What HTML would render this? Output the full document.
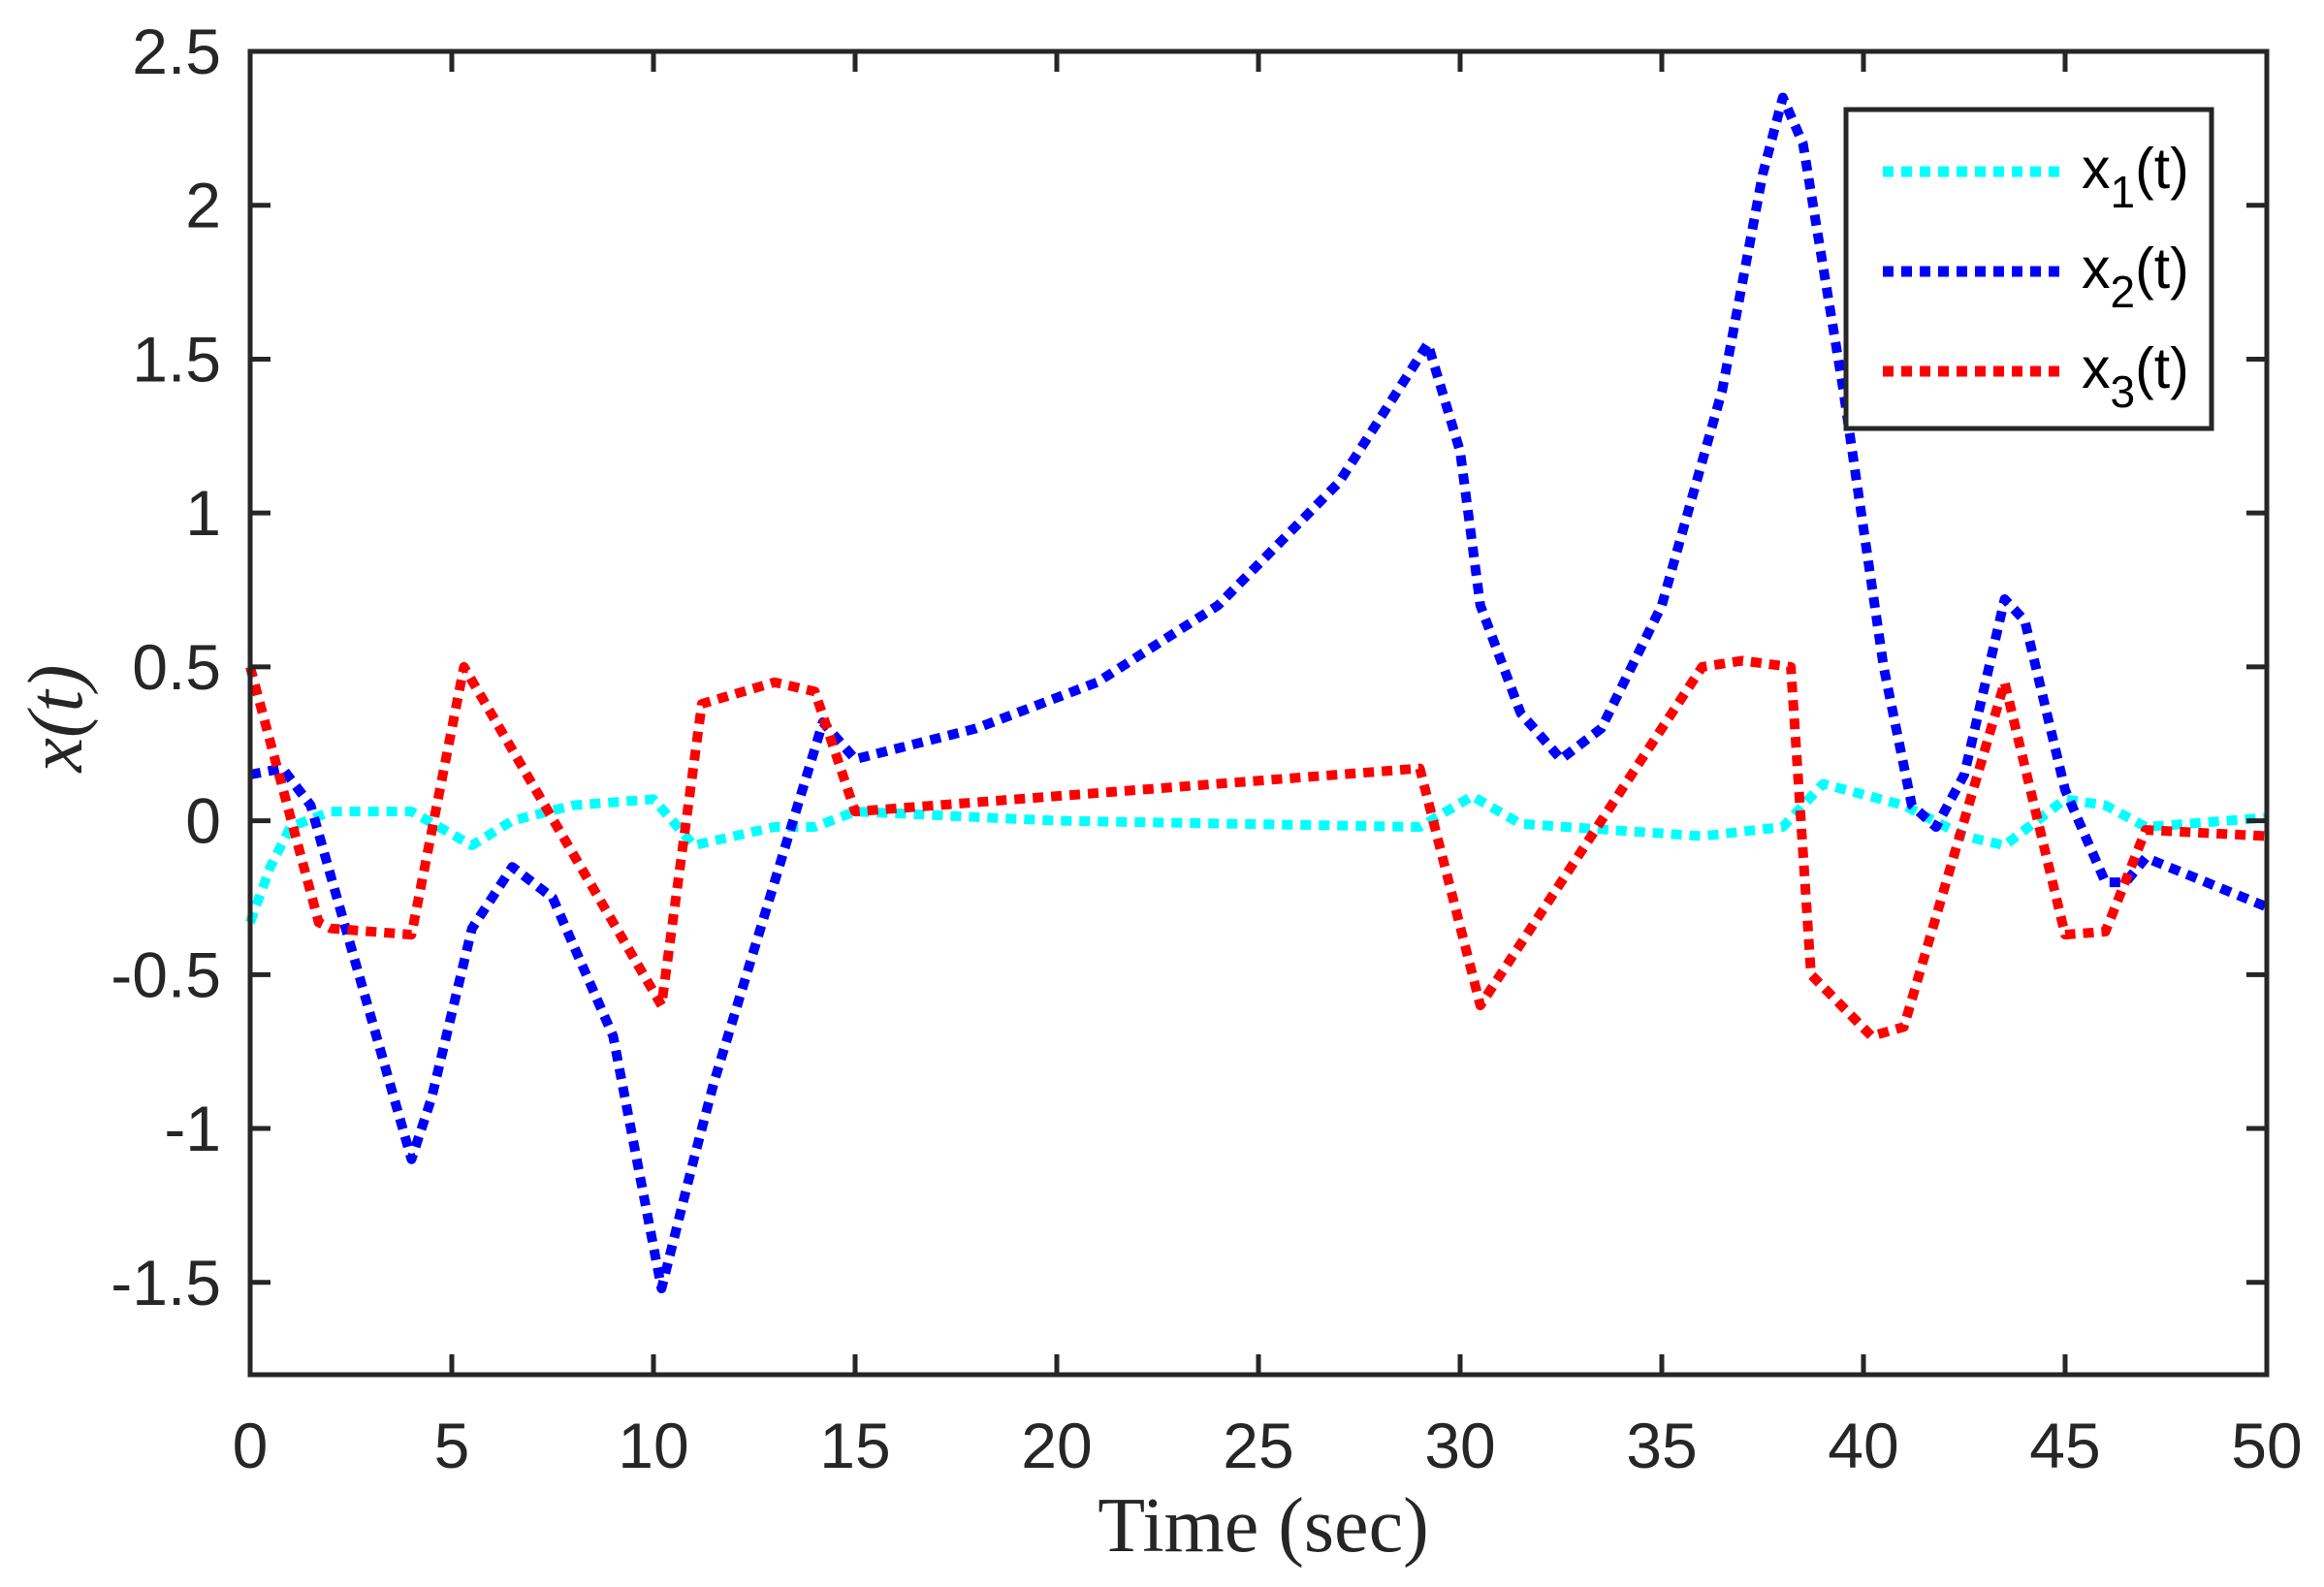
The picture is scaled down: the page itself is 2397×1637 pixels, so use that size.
<!DOCTYPE html>
<html><head><meta charset="utf-8"><style>
html,body{margin:0;padding:0;background:#fff}
svg{display:block}
</style></head><body>
<svg id="s" width="2397" height="1637" xmlns="http://www.w3.org/2000/svg">
<rect width="2397" height="1637" fill="#fff"/>
<g id="lines"></g>
<g id="axes" stroke="#262626" stroke-width="5" fill="none"></g>
<g id="labels" font-family="Liberation Sans, sans-serif" font-size="66" fill="#262626"></g>
<text x="1303" y="1600" font-family="Liberation Serif, serif" font-size="80" text-anchor="middle" fill="#262626">Time (sec)</text>
<text transform="translate(84,741) rotate(-90)" font-family="Liberation Serif, serif" font-size="80" font-style="italic" text-anchor="middle" fill="#262626">x(t)</text>
<rect x="1904" y="113" width="377" height="329" fill="#fff" stroke="#262626" stroke-width="5"/>
<g stroke-width="11" stroke-dasharray="11 8">
<line x1="1942" y1="177" x2="2127" y2="177" stroke="#00ffff"/>
<line x1="1942" y1="280" x2="2127" y2="280" stroke="#0000ff"/>
<line x1="1942" y1="383" x2="2127" y2="383" stroke="#ff0000"/>
</g>
<g font-family="Liberation Sans, sans-serif" font-size="59" fill="#000">
<text x="2147" y="194">x<tspan dy="20" font-size="46">1</tspan><tspan dy="-20">(t)</tspan></text>
<text x="2147" y="297">x<tspan dy="20" font-size="46">2</tspan><tspan dy="-20">(t)</tspan></text>
<text x="2147" y="400">x<tspan dy="20" font-size="46">3</tspan><tspan dy="-20">(t)</tspan></text>
</g>
</svg>
<script>
var L=258,R=2338,T=53,B=1418,ymin=-1.8,ymax=2.5;
function X(x){return L+(x/50)*(R-L);}
function Y(y){return T+(ymax-y)/(ymax-ymin)*(B-T);}
var ns="http://www.w3.org/2000/svg";
var c=[[0,-0.33],[0.5,-0.15],[1,-0.02],[2,0.03],[4,0.03],[5.5,-0.08],[6.5,0],[8,0.05],[10,0.07],[11,-0.08],[13,-0.02],[14,-0.02],[15,0.03],[20,0],[29,-0.02],[30.3,0.08],[31.5,-0.01],[36,-0.05],[38,-0.02],[39,0.12],[41,0.05],[42.5,-0.05],[43.5,-0.08],[45,0.07],[46,0.05],[47,-0.02],[50,0.01]];
var b=[[0,0.15],[0.8,0.17],[1.5,0.05],[4,-1.1],[4.5,-0.9],[5.5,-0.35],[6.5,-0.15],[7.5,-0.25],[9,-0.7],[10.2,-1.52],[11,-1.1],[11.5,-0.85],[13,-0.2],[14.2,0.32],[15,0.2],[18,0.3],[21,0.45],[24,0.7],[27,1.1],[29.2,1.55],[30,1.2],[30.5,0.7],[31.5,0.35],[32.5,0.2],[33.5,0.3],[35,0.7],[36.5,1.4],[37.5,2.1],[38,2.35],[38.5,2.2],[39.5,1.4],[40.5,0.5],[41.2,0.05],[41.8,-0.02],[42.5,0.15],[43.5,0.72],[44,0.65],[45,0.1],[46,-0.2],[46.5,-0.2],[47,-0.12],[50,-0.28]];
var r=[[0,0.5],[1.7,-0.33],[2,-0.35],[4,-0.37],[5.3,0.5],[10.2,-0.6],[11.2,0.38],[13,0.45],[14,0.42],[15,0.03],[29,0.17],[30.5,-0.6],[36,0.5],[37,0.52],[38.2,0.5],[38.7,-0.5],[40.2,-0.7],[41,-0.67],[43.5,0.45],[45,-0.37],[46,-0.36],[47,-0.03],[50,-0.05]];
var g=document.getElementById("lines");
[[c,"#00ffff"],[b,"#0000ff"],[r,"#ff0000"]].forEach(function(s){
 var p=document.createElementNS(ns,"polyline");
 p.setAttribute("points",s[0].map(function(q){return X(q[0]).toFixed(1)+","+Y(q[1]).toFixed(1)}).join(" "));
 p.setAttribute("fill","none");p.setAttribute("stroke",s[1]);p.setAttribute("stroke-width","10");
 p.setAttribute("stroke-dasharray","11 8");p.setAttribute("stroke-linejoin","round");
 g.appendChild(p);
});
var a=document.getElementById("axes"),lb=document.getElementById("labels");
var rc=document.createElementNS(ns,"rect");
rc.setAttribute("x",L);rc.setAttribute("y",T);rc.setAttribute("width",R-L);rc.setAttribute("height",B-T);a.appendChild(rc);
function ln(x1,y1,x2,y2){var l=document.createElementNS(ns,"line");l.setAttribute("x1",x1);l.setAttribute("y1",y1);l.setAttribute("x2",x2);l.setAttribute("y2",y2);a.appendChild(l);}
function tx(x,y,s,anc){var t=document.createElementNS(ns,"text");t.setAttribute("x",x);t.setAttribute("y",y);t.setAttribute("text-anchor",anc);t.textContent=s;lb.appendChild(t);}
for(var i=0;i<=10;i++){var x=X(i*5);ln(x,B,x,B-21);ln(x,T,x,T+21);tx(x,1514,String(i*5),"middle");}
[2.5,2,1.5,1,0.5,0,-0.5,-1,-1.5].forEach(function(v){var y=Y(v);ln(L,y,L+21,y);ln(R,y,R-21,y);tx(228,y+23,String(v),"end");});
</script>
</body></html>
